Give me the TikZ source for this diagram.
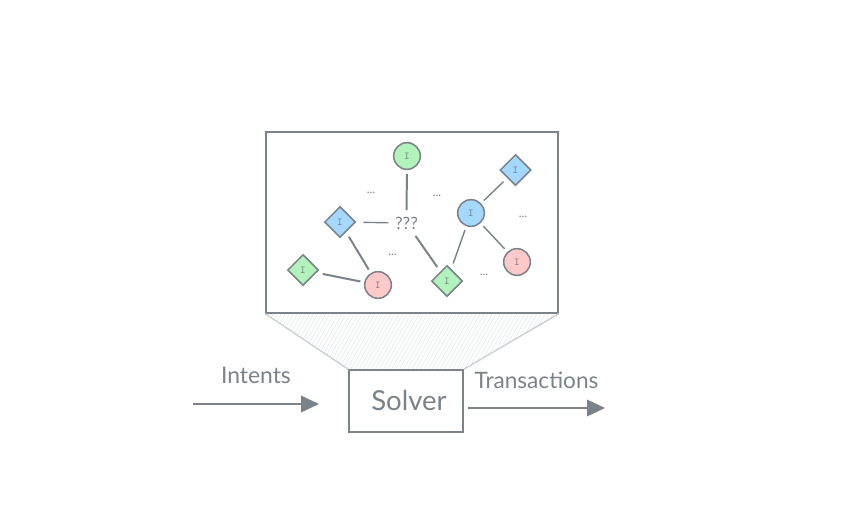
\documentclass[tikz,border=0pt]{standalone}
\usepackage{fontspec}
\setmainfont{Lato}
\usetikzlibrary{shapes.geometric}
\usetikzlibrary{arrows.meta}
\usetikzlibrary{patterns.meta}
\definecolor{inkgray}{HTML}{7A828A}
\definecolor{lightgray}{HTML}{CDD1D4}
\definecolor{hatchgray}{HTML}{DDE1E4}
\definecolor{mygreen}{HTML}{B2F2BB}
\definecolor{myblue}{HTML}{A5D8FF}
\definecolor{myred}{HTML}{FFC9C9}
\tikzset{
    myround/.style = {circle, line width=1.3pt, draw=inkgray, minimum size=0.8cm, inner sep=0pt, outer sep=0.14cm, font=\ttfamily\fontsize{9}{9}\selectfont, text=inkgray},
    mydiamond/.style = {diamond, line width=1.3pt, draw=inkgray, minimum size=1.06cm, inner sep=0pt, outer sep=0.18cm, font=\ttfamily\fontsize{9}{9}\selectfont, text=inkgray},
    mytext/.style = {text=inkgray, inner sep=0pt},
    mydots/.style = {text=inkgray, inner sep=0pt, font=\fontsize{10}{10}\selectfont},
    mybox/.style = {rectangle, line width=1.3pt, draw=inkgray, inner sep=0pt},
    edgen/.style = {-,line width=1.2pt,inkgray},
    edged/.style = {-,line width=1.7pt,inkgray},
    edgel/.style = {-,line width=1.2pt,lightgray},
    edgea/.style = {-{Triangle[length=0.54cm,width=0.5cm]},line width=1.2pt,inkgray},
}
\begin{document}
\begin{tikzpicture}[x=0.03cm,y=-0.03cm]
\path[use as bounding box] (0, 0) rectangle (847, 527);
\node[mybox, minimum width=8.76cm, minimum height=5.43cm] at (412.0, 222.5) (board) {};
\node[mybox, minimum width=3.42cm, minimum height=1.86cm] at (406.0, 401.0) (solver) {};
\node[mytext, font=\fontsize{23.5}{24}\selectfont] at (409.0, 400.0) (solverlabel) {Solver};
%
\fill[pattern={Lines[angle=60,distance=3pt,line width=0.35pt]}, pattern color=hatchgray]
    (board.south west) -- (board.south east) -- (solver.north east) -- (solver.north west) -- cycle;
\draw[edgel] (board.south west) -- (solver.north west);
\draw[edgel] (board.south east) -- (solver.north east);
%
\node[myround, fill=mygreen] at (407.0, 156.0) (top) {I};
\node[mydiamond, fill=myblue] at (515.5, 170.0) (right) {I};
\node[myround, fill=myblue] at (471.0, 213.0) (hub) {I};
\node[mydiamond, fill=myblue] at (340.0, 222.0) (left) {I};
\node[mytext, font=\fontsize{14.5}{15}\selectfont, outer sep=0.2cm] at (406.5, 223.0) (unknown) {???};
\node[mydiamond, fill=mygreen] at (303.0, 270.0) (corner) {I};
\node[myround, fill=myred] at (378.0, 285.0) (lower) {I};
\node[mydiamond, fill=mygreen] at (447.0, 281.0) (bottom) {I};
\node[myround, fill=myred] at (517.0, 262.0) (far) {I};
%
\node[mydots] at (371.0, 193.0) (dotsa) {...};
\node[mydots] at (437.0, 196.0) (dotsb) {...};
\node[mydots] at (523.0, 217.0) (dotsc) {...};
\node[mydots] at (392.5, 255.0) (dotsd) {...};
\node[mydots] at (484.0, 275.0) (dotse) {...};
%
\draw[edged] (top) -- (unknown);
\draw[edgen] (left) -- (unknown);
\draw[edged] (unknown) -- (bottom);
\draw[edged] (left) -- (lower);
\draw[edged] (corner) -- (lower);
\draw[edgen] (bottom) -- (hub);
\draw[edgen] (hub) -- (right);
\draw[edgen] (hub) -- (far);
%
\coordinate (instart) at (193.0, 404.0);
\coordinate (inend) at (319.0, 404.0);
\coordinate (outstart) at (468.0, 408.0);
\coordinate (outend) at (605.0, 408.0);
\draw[edgea] (instart) -- (inend);
\draw[edgea] (outstart) -- (outend);
\node[mytext, font=\fontsize{19.5}{20}\selectfont] at (256.0, 375.5) (intents) {Intents};
\node[mytext, font=\fontsize{19.3}{20}\selectfont] at (536.5, 380.0) (transactions) {Transactions};
\end{tikzpicture}
\end{document}
